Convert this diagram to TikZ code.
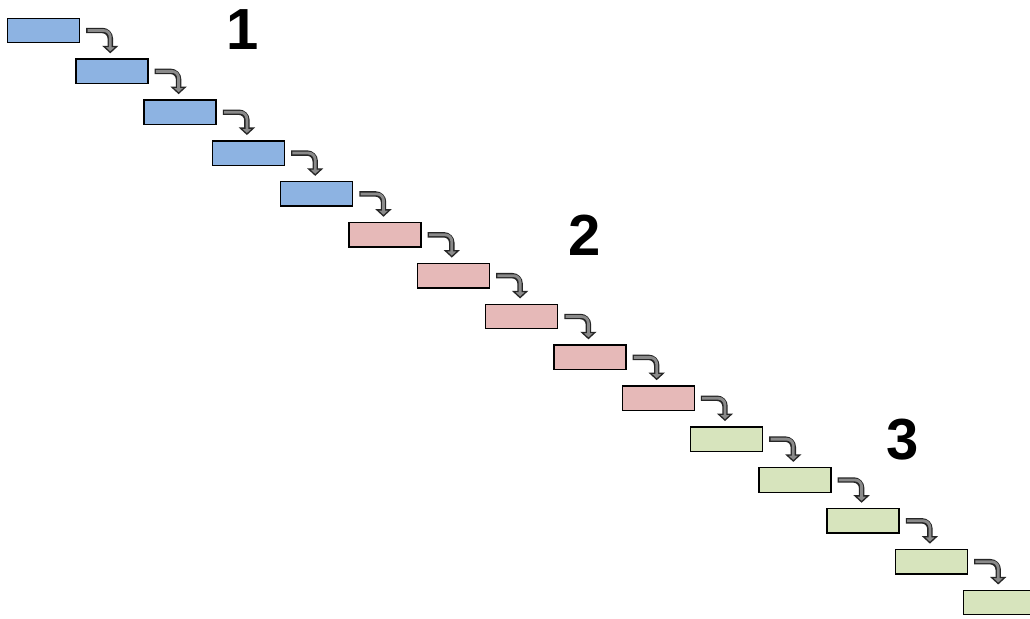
\documentclass[tikz,border=0pt]{standalone}
\usepackage{fontspec}
\setmainfont{Liberation Sans}
\definecolor{boxblue}{HTML}{8DB3E2}
\definecolor{boxpink}{HTML}{E6B9B8}
\definecolor{boxgreen}{HTML}{D7E4BD}
\definecolor{arrowline}{HTML}{262626}
\definecolor{arrowfill}{HTML}{8A8A8A}
\begin{document}
\begin{tikzpicture}[x=1pt,y=-1pt,
  stepbox/.style={draw=black, line width=1.4pt, minimum width=72pt, minimum height=24.5pt, inner sep=0pt},
  shaftdark/.style={draw=arrowline, line width=5.4pt, rounded corners=8pt},
  shaftfill/.style={draw=arrowfill, line width=2.8pt, rounded corners=6.7pt},
  headstyle/.style={fill=arrowfill, draw=arrowline, line width=1.3pt, line join=miter},
  numlabel/.style={font=\fontsize{58}{58}\selectfont\bfseries, inner sep=0pt}]
\useasboundingbox (0,0) rectangle (1030,618);
\clip (0,0) rectangle (1030,618);
\fill[white] (0,0) rectangle (1030,618);

% staircase of steps
\foreach \i in {1,...,15} {
  \pgfmathsetmacro\cx{43.5+(\i-1)*68.3}
  \pgfmathsetmacro\cy{30.5+(\i-1)*40.86}
  \ifnum\i<6 \def\fc{boxblue}\else\ifnum\i<11 \def\fc{boxpink}\else\def\fc{boxgreen}\fi\fi
  \node[stepbox, fill=\fc] (b\i) at (\cx,\cy) {};
}

% curved block arrows between consecutive steps
\foreach \i [evaluate=\i as \j using int(\i+1)] in {1,...,14} {
  \coordinate (s) at ([xshift=6pt]b\i.east);
  \coordinate (t) at ([xshift=-1.5pt,yshift=6pt]b\j.north);
  \coordinate (h) at ([xshift=-1.5pt,yshift=12pt]b\j.north);
  \draw[shaftdark] (s) -| (h);
  \draw[headstyle] (t) -- ([xshift=-6.5pt]h) -- ([xshift=6.5pt]h) -- cycle;
  \draw[shaftfill] ([xshift=1.3pt]s) -| ([yshift=-1.5pt]h);
}

% phase numbers
\node[numlabel] (n1) at (243,30) {1};
\node[numlabel] (n2) at (585,235) {2};
\node[numlabel] (n3) at (903,440) {3};
\end{tikzpicture}
\end{document}
